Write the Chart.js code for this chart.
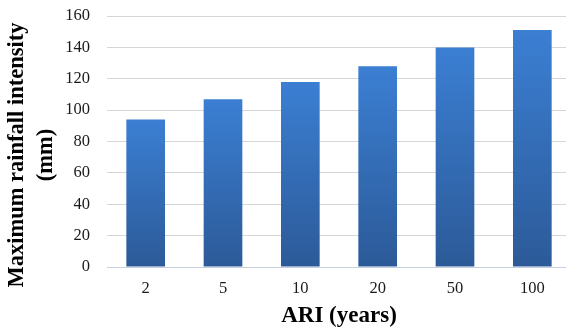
<!DOCTYPE html>
<html>
<head>
<meta charset="utf-8">
<script src="https://cdn.jsdelivr.net/npm/chart.js@4/dist/chart.umd.min.js"></script>
<style>
  html, body { margin: 0; padding: 0; background: #fff; overflow: hidden; }
  #wrap { position: relative; width: 571px; height: 331px; }
</style>
</head>
<body>
<div id="wrap"><canvas id="chart"></canvas></div>
<script>
// Average recurrence interval categories and rainfall values
const ariLabels = ['2', '5', '10', '20', '50', '100'];
const maxIntensity = [94, 107, 118, 128, 140, 151];
const yTicks = [0, 20, 40, 60, 80, 100, 120, 140, 160];

const serif = "'Liberation Serif', 'Times New Roman', serif";

// Vertical blue gradient for each bar, from its own top down to the baseline
function barGradient(ctx) {
  const chart = ctx.chart;
  const area = chart.chartArea;
  if (!area || ctx.type !== 'data') return '#3470bf';
  const y = chart.scales.y;
  const top = y.getPixelForValue(ctx.raw);
  const bottom = y.getPixelForValue(0);
  const g = chart.ctx.createLinearGradient(0, top, 0, bottom);
  g.addColorStop(0, '#3b7fd3');
  g.addColorStop(1, '#2c5a98');
  return g;
}

// Two-line rotated title for the value axis
const yTitlePlugin = {
  id: 'yTitle',
  afterDraw(chart) {
    const c = chart.ctx;
    const lines = [['Maximum rainfall intensity', 23], ['(mm)', 52]];
    lines.forEach(([text, x]) => {
      c.save();
      c.fillStyle = '#000';
      c.font = "bold 22.5px " + serif;
      c.textAlign = 'center';
      c.textBaseline = 'alphabetic';
      c.translate(x, 155);
      c.rotate(-Math.PI / 2);
      c.fillText(text, 0, 0);
      c.restore();
    });
  }
};

new Chart(document.getElementById('chart'), {
  type: 'bar',
  data: {
    labels: ariLabels,
    datasets: [{
      data: maxIntensity,
      backgroundColor: barGradient,
      borderWidth: 0,
      barPercentage: 0.5,
      categoryPercentage: 1.0
    }]
  },
  options: {
    responsive: true,
    maintainAspectRatio: false,
    animation: false,
    layout: { padding: { top: 16, right: 0, bottom: 0, left: 0 } },
    plugins: {
      legend: { display: false },
      tooltip: { enabled: false }
    },
    scales: {
      x: {
        grid: { display: false, drawTicks: false },
        border: { display: true, color: '#c5d0e2', width: 1 },
        ticks: {
          color: '#1a1a1a',
          font: { family: serif, size: 16.5 },
          padding: 12,
          maxRotation: 0
        },
        title: {
          display: true,
          text: 'ARI (years)',
          color: '#000',
          font: { family: serif, size: 23, weight: 'bold' },
          padding: { top: 0, bottom: 1 }
        },
        afterFit(scale) {
          scale.height = 64;
          scale.paddingLeft = 0;
          scale.paddingRight = 0;
        }
      },
      y: {
        min: 0,
        max: 160,
        afterBuildTicks(scale) { scale.ticks = yTicks.map(v => ({ value: v })); },
        grid: { color: '#d6d6d6', lineWidth: 1, drawTicks: false },
        border: { display: false },
        ticks: {
          color: '#1a1a1a',
          font: { family: serif, size: 16.5 },
          padding: 17
        },
        afterFit(scale) {
          scale.width = 107;
          scale.paddingTop = 0;
          scale.paddingBottom = 0;
        }
      }
    }
  },
  plugins: [yTitlePlugin]
});
</script>
</body>
</html>
